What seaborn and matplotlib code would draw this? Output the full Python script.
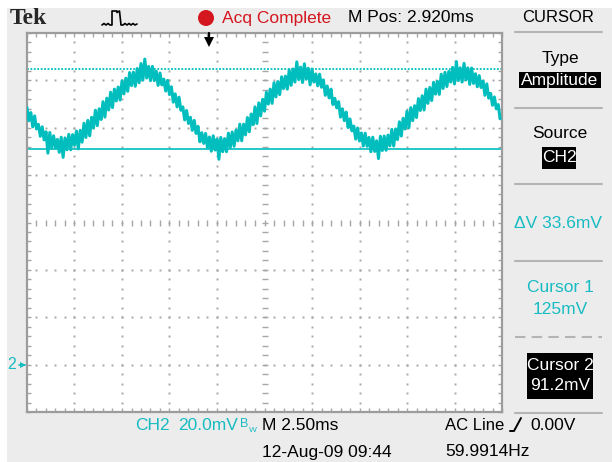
import numpy as np
import pandas as pd
import matplotlib
matplotlib.use("Agg")
import matplotlib.pyplot as plt
import seaborn as sns
from matplotlib import transforms
from matplotlib.patches import Rectangle, Circle

# ---------------- acquisition settings ----------------
channel = "CH2"
volts_per_div_mv = 20.0
time_per_div_ms = 2.5
h_divs = 10
v_divs = 8
ground_div = 1              # divisions between bottom edge and channel ground
m_pos_ms = 2.920            # screen centre relative to trigger
sample_dt_ms = 0.2          # width of one peak-detect interval
trigger_source = "AC Line"
trigger_level_v = 0.0
trigger_freq_hz = 59.9914
timestamp = "12-Aug-09 09:44"

# amplitude cursors (mV)
cursor1_mv = 124.8
cursor2_mv = 91.2

# CH2 peak-detect record (mV): max and min of each interval, from the left edge
trace_max_mv = [
    108.5, 106.4, 105.0, 101.4, 100.4, 98.3, 98.0, 96.6, 95.1, 96.0,
    95.7, 97.2, 97.1, 98.6, 98.9, 101.9, 103.1, 104.4, 107.4, 108.0,
    111.0, 112.5, 115.0, 116.3, 117.2, 119.8, 120.9, 123.3, 123.5, 125.0,
    127.1, 129.0, 125.9, 125.9, 123.9, 123.1, 120.5, 120.0, 117.3, 114.3,
    112.9, 108.8, 107.3, 104.4, 103.1, 100.6, 97.9, 97.6, 96.1, 96.6,
    95.2, 95.9, 95.4, 97.7, 98.2, 99.0, 101.5, 101.5, 104.3, 105.8,
    108.8, 110.5, 112.0, 115.0, 116.3, 119.0, 119.5, 121.5, 121.8, 124.4,
    124.8, 127.8, 125.6, 127.0, 125.1, 124.8, 122.7, 122.6, 120.2, 117.6,
    116.3, 112.4, 111.0, 108.0, 106.6, 103.7, 100.7, 99.9, 97.8, 97.7,
    95.9, 96.0, 94.5, 96.4, 96.5, 96.9, 99.3, 99.5, 102.5, 104.0,
    107.0, 108.5, 109.3, 112.3, 113.5, 116.3, 117.0, 119.2, 119.6, 122.6,
    123.4, 123.8, 125.5, 127.9, 125.3, 127.2, 125.3, 125.2, 122.8, 122.0,
    119.7, 118.5, 114.5, 113.0, 109.8,
]
trace_min_mv = [
    103.0, 100.4, 99.5, 96.4, 94.9, 89.3, 91.5, 91.6, 89.6, 87.5,
    90.7, 90.7, 92.6, 91.1, 93.9, 95.9, 96.6, 99.9, 100.9, 103.5,
    104.5, 107.5, 108.5, 111.3, 111.7, 114.3, 115.4, 117.8, 117.5, 119.0,
    120.1, 121.0, 119.9, 119.9, 117.9, 118.1, 115.5, 114.0, 110.8, 108.8,
    107.4, 103.3, 101.8, 98.9, 97.6, 94.1, 93.4, 91.6, 90.1, 90.6,
    86.7, 89.9, 89.9, 91.7, 92.2, 94.5, 94.5, 97.0, 98.3, 101.3,
    101.8, 105.0, 107.0, 110.0, 110.3, 113.0, 114.0, 116.5, 116.3, 117.9,
    119.3, 120.3, 119.1, 120.5, 118.1, 119.3, 117.7, 117.1, 113.7, 112.6,
    109.8, 108.4, 104.5, 103.0, 100.1, 98.7, 95.2, 94.4, 92.3, 92.2,
    89.9, 90.0, 87.0, 90.4, 90.5, 92.4, 92.3, 95.0, 96.5, 99.5,
    100.0, 103.0, 104.3, 107.3, 107.5, 110.3, 111.5, 114.2, 114.1, 116.6,
    117.4, 119.3, 118.5, 119.9, 119.3, 120.2, 118.3, 118.7, 117.3, 117.0,
    113.7, 112.5, 109.5, 108.0, 103.8,
]

# ---------------- styling ----------------
W, H = 612, 462
SCOPE_CYAN = "#00BEBE"
TEXT_CYAN = "#17BCC2"
ACQ_RED = "#D4161E"
PANEL_GREY = "#ECECEC"
GRID_GREY = "#A6A6A6"
BORDER_GREY = "#9C9C9C"
SEP_GREY = "#B4B4B4"

sns.set_theme(style="white")
plt.rcParams["font.family"] = ["Liberation Sans", "DejaVu Sans"]

fig = plt.figure(figsize=(W / 100, H / 100), dpi=100)

# full-figure layer in pixel units for the instrument chrome
ov = fig.add_axes([0, 0, 1, 1], zorder=0)
ov.set_xlim(0, W)
ov.set_ylim(H, 0)
ov.axis("off")
ov.add_patch(Rectangle((0, 0), W, H, color="white", lw=0))
ov.add_patch(Rectangle((7, 8), W - 7, H - 8, color=PANEL_GREY, lw=0))

# ---------------- waveform area ----------------
ax = fig.add_axes([27 / W, 1 - 412 / H, 475 / W, 379 / H], zorder=1)
ax.set_facecolor("white")

t_left = m_pos_ms - h_divs / 2 * time_per_div_ms
t_right = t_left + h_divs * time_per_div_ms
y_low = -ground_div * volts_per_div_mv
y_high = (v_divs - ground_div) * volts_per_div_mv

# each interval drawn as max then min, like the scope's peak-detect display
n = len(trace_max_mv)
t_start = t_left + np.arange(n) * sample_dt_ms
df = pd.DataFrame({
    "t_ms": np.column_stack([t_start, t_start + sample_dt_ms / 2]).ravel(),
    "mv": np.column_stack([trace_max_mv, trace_min_mv]).ravel(),
})

# graticule
x_major = t_left + np.arange(h_divs + 1) * time_per_div_ms
y_major = y_low + np.arange(v_divs + 1) * volts_per_div_mv
x_minor = t_left + np.arange(h_divs * 5 + 1) * time_per_div_ms / 5
y_minor = y_low + np.arange(v_divs * 5 + 1) * volts_per_div_mv / 5
x_center = x_major[h_divs // 2]
y_center = y_major[v_divs // 2]

for xv in x_major[1:-1]:
    if xv == x_center:
        continue
    ax.plot(np.full(len(y_minor) - 2, xv), y_minor[1:-1], ls="none",
            marker="s", ms=1.4, mew=0, color=GRID_GREY, zorder=1)
for yv in y_major[1:-1]:
    if yv == y_center:
        continue
    ax.plot(x_minor[1:-1], np.full(len(x_minor) - 2, yv), ls="none",
            marker="s", ms=1.4, mew=0, color=GRID_GREY, zorder=1)
ax.plot(np.full(len(y_minor) - 2, x_center), y_minor[1:-1], ls="none",
        marker="_", ms=4.5, mew=1.0, color=GRID_GREY, zorder=1)
ax.plot(x_minor[1:-1], np.full(len(x_minor) - 2, y_center), ls="none",
        marker="|", ms=4.5, mew=1.0, color=GRID_GREY, zorder=1)

# cursors
ax.axhline(cursor1_mv, color=SCOPE_CYAN, lw=1.3, ls=(0, (1, 0.9)), zorder=2)
ax.axhline(cursor2_mv, color=SCOPE_CYAN, lw=1.2, zorder=2)

# trace
sns.lineplot(data=df, x="t_ms", y="mv", ax=ax, color=SCOPE_CYAN, lw=2.2,
             sort=False, legend=False, zorder=3)

ax.set_xlim(t_left, t_right)
ax.set_ylim(y_low, y_high)
ax.set_xticks(x_major)
ax.set_xticks(x_minor, minor=True)
ax.set_yticks(y_major)
ax.set_yticks(y_minor, minor=True)
ax.tick_params(which="both", direction="in", top=True, right=True,
               bottom=True, left=True, length=3, width=1,
               color=GRID_GREY, labelbottom=False, labelleft=False)
ax.set_xlabel("")
ax.set_ylabel("")
for sp in ax.spines.values():
    sp.set_color(BORDER_GREY)
    sp.set_linewidth(1.6)

# trigger position marker
ax.plot([0, 0], [y_high, y_high - 2.2], color="black", lw=1.6,
        clip_on=False, zorder=5)
ax.plot([0], [y_high - 3.6], marker="v", ms=6.5, color="black", mew=0,
        clip_on=False, zorder=5)

# channel ground marker
gtr = transforms.blended_transform_factory(ax.transAxes, ax.transData)
ax.text(-0.033, 0, "2", transform=gtr, color=TEXT_CYAN, fontsize=11.5,
        ha="center", va="center")
ax.plot([-0.009], [0], transform=gtr, marker=">", ms=5, mew=0,
        color=TEXT_CYAN, clip_on=False)
ax.plot([-0.017, -0.005], [0, 0], transform=gtr, color=TEXT_CYAN, lw=1.2,
        clip_on=False)


def label(x, y, s, color="black", size=12.5, ha="left", **kw):
    ov.text(x, y, s, color=color, fontsize=size, ha=ha, va="center", **kw)


# ---------------- top status bar ----------------
ov.text(10, 18, "Tek", fontsize=17, fontweight="bold",
        family=["Liberation Serif", "DejaVu Serif"], ha="left", va="center")
pulse_x = [102, 104, 106, 108, 110, 112, 112, 117, 117, 119.5, 121, 123,
           125, 127, 129, 131, 133, 135, 137]
pulse_y = [25, 23.5, 25, 23.5, 25, 25, 11, 11, 12.5, 11, 25, 25,
           23.5, 25, 23.5, 25, 23.5, 25, 24]
ov.plot(pulse_x, pulse_y, color="black", lw=1.2)
ov.add_patch(Circle((206, 18), 8, color=ACQ_RED, lw=0))
label(222, 18, "Acq Complete", color=ACQ_RED)
label(348, 18, f"M Pos: {m_pos_ms:.3f}ms")
label(558, 18, "CURSOR", ha="center", size=12)

# ---------------- cursor menu ----------------
for ys in (32, 108, 184, 261, 413):
    ov.plot([515, 602], [ys, ys], color=SEP_GREY, lw=1.5)
ov.plot([515, 602], [337, 337], color=SEP_GREY, lw=1.5, ls=(0, (5, 3)))

label(560, 58, "Type", ha="center")
ov.add_patch(Rectangle((519, 72), 82, 16, color="black", lw=0))
label(560, 80, "Amplitude", color="white", ha="center")

label(560, 134, "Source", ha="center")
ov.add_patch(Rectangle((542, 147), 34, 22, color="black", lw=0))
label(559, 158, channel, color="white", ha="center")


def fmt_mv(v):
    return f"{v:.3g}mV"


label(558, 223, f"\u0394V {fmt_mv(cursor1_mv - cursor2_mv)}",
      color=TEXT_CYAN, ha="center")
label(560, 287, "Cursor 1", color=TEXT_CYAN, ha="center")
label(560, 309, fmt_mv(cursor1_mv), color=TEXT_CYAN, ha="center")
ov.add_patch(Rectangle((527, 353), 66, 46, color="black", lw=0))
label(560, 365, "Cursor 2", color="white", ha="center")
label(560, 386, fmt_mv(cursor2_mv), color="white", ha="center")

# ---------------- bottom readouts ----------------
label(135, 425, channel, color=TEXT_CYAN)
label(178, 425, f"{volts_per_div_mv:.1f}mV", color=TEXT_CYAN)
label(240, 424, "B", color=TEXT_CYAN, size=9)
label(249, 431, "W", color=TEXT_CYAN, size=6)
label(262, 425, f"M {time_per_div_ms:.2f}ms")
label(262, 452, timestamp)
label(445, 425, trigger_source, size=12)
ov.plot([510, 514, 521], [431, 431, 418], color="black", lw=1.4)
label(530, 425, f"{trigger_level_v:.2f}V")
label(445, 452, f"{trigger_freq_hz:.4f}Hz")

fig.savefig("out.png", dpi=100)
